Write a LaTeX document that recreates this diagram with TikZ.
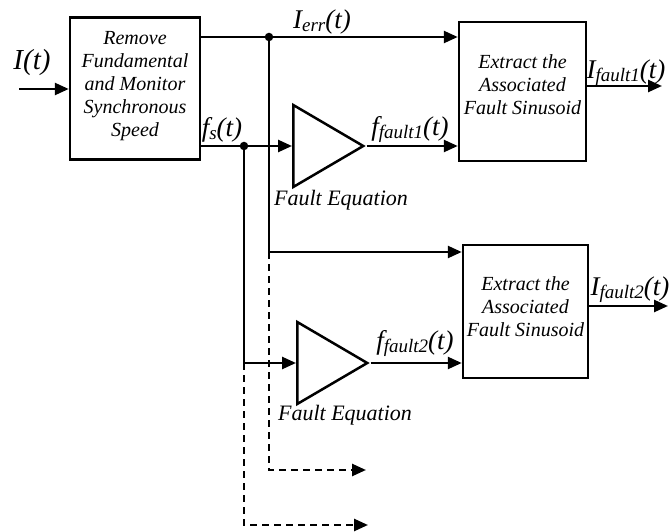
\documentclass[tikz,border=0pt]{standalone}
\usepackage{fontspec}
\setmainfont{Liberation Serif}
\usetikzlibrary{positioning,arrows.meta,shapes.geometric}

\newcommand{\lsub}[1]{\raisebox{-3pt}{\fontsize{19}{19}\selectfont\itshape #1}}

\tikzset{
  block/.style={draw, rectangle, line width=2.5pt, align=center, inner sep=0pt},
  blocktext/.style={align=center, inner sep=0pt, font=\fontsize{20}{23}\selectfont\itshape},
  amp/.style={draw, isosceles triangle, isosceles triangle stretches, minimum width=82pt, minimum height=70pt, inner sep=0pt, line width=2.5pt},
  sig/.style={-{Triangle[length=14pt,width=12pt]}, line width=2.5pt},
  lbl/.style={inner sep=0pt, font=\fontsize{27}{30}\selectfont\itshape},
  cap1/.style={inner sep=0pt, font=\fontsize{22}{24}\selectfont\itshape},
  dot/.style={circle, fill, inner sep=0pt, minimum size=8.5pt},
}

\begin{document}
\begin{tikzpicture}[x=1pt, y=-1pt]
\useasboundingbox (0,0) rectangle (670,532);

% Blocks
\node[block, minimum width=130pt, minimum height=142pt] (remove) at (135,88.5) {};
\node[block, minimum width=127pt, minimum height=139pt] (extract1) at (522.5,91.5) {};
\node[block, minimum width=125pt, minimum height=133pt] (extract2) at (525.5,311.5) {};
\node[blocktext] (removetxt) at ([yshift=2pt]remove.center) {Remove\\Fundamental\\and Monitor\\Synchronous\\Speed};
\node[blocktext] (extract1txt) at ([yshift=7pt]extract1.center) {Extract the\\Associated\\Fault Sinusoid};
\node[blocktext] (extract2txt) at ([yshift=5pt]extract2.center) {Extract the\\Associated\\Fault Sinusoid};

% Fault equations
\node[amp, anchor=lower side] (amp1) at (292,146) {};
\node[amp, anchor=lower side] (amp2) at (296,363) {};

% Junctions and free ends
\coordinate (src) at (19,89);
\node[dot] (jerr) at (269,37) {};
\node[dot] (jfs) at (244,146) {};
\coordinate (jerr2) at (269,252);
\coordinate (jfs2) at (244,363);
\coordinate (out1) at (662,86);
\coordinate (out2) at (668,306);
\coordinate (more1) at (366,470);
\coordinate (more2) at (368,525);

% Arrows
\draw[sig] (src) -- (src -| remove.west);
\draw[sig] (remove.east |- jerr) -- (jerr.center) -- (jerr -| extract1.west);
\draw[sig] (remove.east |- jfs) -- (jfs.center) -- (amp1.lower side);
\draw[sig] (jerr.center) -- (jerr2) -- (jerr2 -| extract2.west);
\draw[sig] (jfs.center) -- (jfs2) -- (amp2.lower side);
\draw[sig] (amp1.apex) -- (amp1.apex -| extract1.west);
\draw[sig] (amp2.apex) -- (amp2.apex -| extract2.west);
\draw[sig] (extract1.east |- out1) -- (out1);
\draw[sig] (extract2.east |- out2) -- (out2);
\draw[sig, dash pattern=on 7pt off 5pt] (jerr2) |- (more1);
\draw[sig, dash pattern=on 7pt off 5pt] (jfs2) |- (more2);

% Labels
\node[lbl, font=\fontsize{29}{32}\selectfont\itshape] (lin) at (32,63) {I(t)};
\node[lbl] (lerr) at (322,22) {I\lsub{err}(t)};
\node[lbl] (lfs) at (222,130) {f\lsub{s}(t)};
\node[lbl] (lff1) at (410,130) {f\lsub{fault1}(t)};
\node[lbl] (lif1) at (626,73) {I\lsub{fault1}(t)};
\node[lbl] (lff2) at (415,344) {f\lsub{fault2}(t)};
\node[lbl] (lif2) at (630,290) {I\lsub{fault2}(t)};
\node[cap1] (feq1) at (341,200) {Fault Equation};
\node[cap1] (feq2) at (345,415) {Fault Equation};

\end{tikzpicture}
\end{document}
